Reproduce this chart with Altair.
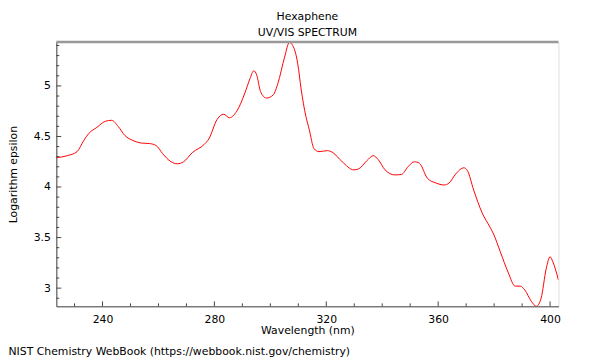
import altair as alt
import pandas as pd

# ---- data ----
wavelength = [223.5, 227.4, 230.9, 233.3, 235.1, 238.0, 241.0, 243.3, 245.6, 248.0,
              250.9, 253.9, 256.8, 259.2, 261.5, 264.5, 266.8, 269.0, 272.1, 276.3,
              278.0, 281.0, 283.3, 285.4, 288.0, 290.9, 292.7, 294.1, 295.1, 296.5,
              298.6, 301.0, 302.7, 305.1, 306.8, 308.0, 309.8, 311.0, 312.7, 313.9,
              315.6, 317.4, 320.4, 322.1, 325.7, 329.8, 331.6, 334.5, 336.8, 338.6,
              341.0, 344.5, 346.9, 349.2, 351.5, 353.3, 356.2, 359.2, 362.1, 363.9,
              366.3, 369.2, 370.4, 372.7, 375.7, 378.6, 379.8, 382.2, 385.1, 387.5,
              389.3, 391.0, 393.3, 395.1, 396.8, 398.6, 400.0, 401.0, 403.0]
log_epsilon = [4.29, 4.31, 4.35, 4.46, 4.53, 4.59, 4.65, 4.66, 4.60, 4.51,
               4.46, 4.435, 4.43, 4.41, 4.33, 4.25, 4.23, 4.25, 4.34, 4.42,
               4.475, 4.67, 4.72, 4.685, 4.75, 4.93, 5.07, 5.15, 5.11, 4.945,
               4.88, 4.91, 5.025, 5.285, 5.43, 5.40, 5.22, 4.97, 4.70, 4.57,
               4.38, 4.35, 4.36, 4.345, 4.25, 4.17, 4.18, 4.26, 4.31, 4.27,
               4.17, 4.12, 4.125, 4.20, 4.25, 4.235, 4.085, 4.04, 4.02, 4.04,
               4.13, 4.19, 4.165, 3.97, 3.745, 3.60, 3.535, 3.36, 3.15, 3.02,
               3.02, 2.98, 2.87, 2.82, 2.90, 3.19, 3.31, 3.26, 3.08]

x_major = [240, 280, 320, 360, 400]
x_minor = [230, 250, 260, 270, 290, 300, 310, 330, 340, 350, 370, 380, 390]
y_major = [3, 3.5, 4, 4.5, 5]
y_minor = [2.9, 3.1, 3.2, 3.3, 3.4, 3.6, 3.7, 3.8, 3.9, 4.1, 4.2, 4.3, 4.4,
           4.6, 4.7, 4.8, 4.9, 5.1, 5.2, 5.3, 5.4]

title_text = "Hexaphene"
subtitle_text = "UV/VIS SPECTRUM"
x_title = "Wavelength (nm)"
y_title = "Logarithm epsilon"
footer_text = "NIST Chemistry WebBook (https://webbook.nist.gov/chemistry)"

# ---- layout ----
W, H = 509, 268
FONT = "DejaVu Sans"
AXIS_COLOR = "#444444"

xs = alt.Scale(domain=[223.5, 403], nice=False, zero=False)
ys = alt.Scale(domain=[2.82, 5.435], nice=False, zero=False)

df = pd.DataFrame({"wl": wavelength, "le": log_epsilon})

line = alt.Chart(df).mark_line(
    color="#ff0000", strokeWidth=1, interpolate="monotone", clip=True
).encode(
    x=alt.X("wl:Q", scale=xs, axis=alt.Axis(
        values=x_major, format="d", title=x_title, ticks=False, grid=False,
        labelPadding=7, labelFontSize=11, labelColor="black", labelFont=FONT,
        titleFontSize=11, titleFontWeight="normal", titleColor="black", titleFont=FONT,
        titleY=28, titleBaseline="alphabetic",
        domainColor=AXIS_COLOR, domainWidth=1)),
    y=alt.Y("le:Q", scale=ys, axis=alt.Axis(
        values=y_major, format=".1~f", title=y_title, ticks=False, grid=False,
        labelPadding=6, labelFontSize=11, labelColor="black", labelFont=FONT,
        titleFontSize=11, titleFontWeight="normal", titleColor="black", titleFont=FONT,
        titleX=-40, titleY=H / 2, titleAngle=270, titleBaseline="alphabetic",
        titleAlign="center",
        domainColor=AXIS_COLOR, domainWidth=1)),
)

xmaj = alt.Chart(pd.DataFrame({"xv": x_major})).mark_rule(color=AXIS_COLOR, strokeWidth=1).encode(
    x=alt.X("xv:Q", scale=xs), y=alt.value(H), y2=alt.value(H - 5))
xmin = alt.Chart(pd.DataFrame({"xv": x_minor})).mark_rule(color=AXIS_COLOR, strokeWidth=1).encode(
    x=alt.X("xv:Q", scale=xs), y=alt.value(H), y2=alt.value(H - 3))
ymaj = alt.Chart(pd.DataFrame({"yv": y_major})).mark_rule(color=AXIS_COLOR, strokeWidth=1).encode(
    y=alt.Y("yv:Q", scale=ys), x=alt.value(0), x2=alt.value(5))
ymin = alt.Chart(pd.DataFrame({"yv": y_minor})).mark_rule(color=AXIS_COLOR, strokeWidth=1).encode(
    y=alt.Y("yv:Q", scale=ys), x=alt.value(0), x2=alt.value(3))

top_border = alt.Chart(pd.DataFrame({"a": [0]})).mark_rule(color="#999999", strokeWidth=2.5).encode(
    x=alt.value(0), x2=alt.value(W), y=alt.value(0))

def label(text, x, y, align):
    return alt.Chart(pd.DataFrame({"t": [text]})).mark_text(
        align=align, baseline="alphabetic", fontSize=11, font=FONT, color="black"
    ).encode(text="t:N", x=alt.value(x), y=alt.value(y))

t1 = label(title_text, W / 2, -22.5, "center")
t2 = label(subtitle_text, W / 2, -6, "center")
foot = label(footer_text, -48.5, H + 49, "left")

chart = alt.layer(line, xmaj, xmin, ymaj, ymin, top_border, t1, t2, foot).properties(
    width=W, height=H,
    autosize=alt.AutoSizeParams(type="none"),
    padding={"left": 49, "top": 32, "right": 34, "bottom": 52},
).configure_view(stroke=AXIS_COLOR, strokeWidth=1).configure(font=FONT)

chart.save("out.html", embed_options={"renderer": "svg", "actions": False})
